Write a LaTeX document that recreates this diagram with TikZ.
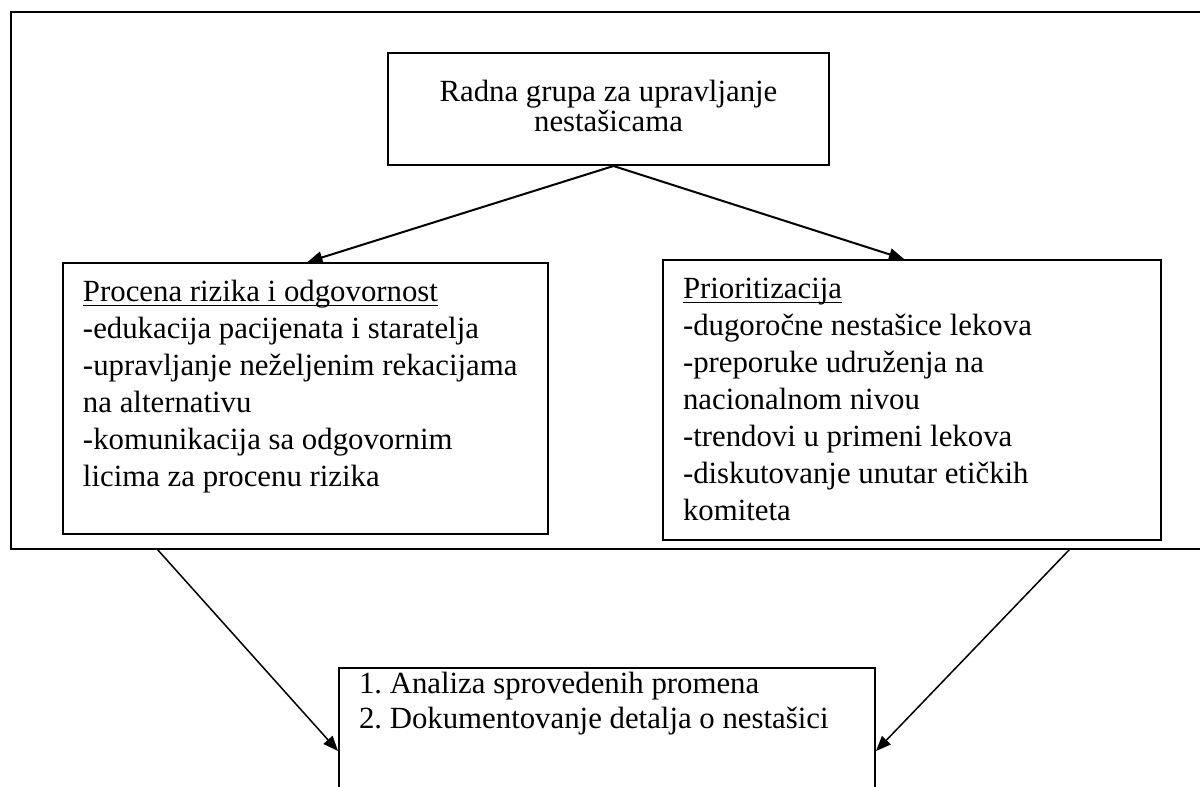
\documentclass[tikz,border=0pt]{standalone}
\usepackage{fontspec}
\setmainfont{Liberation Serif}
\usetikzlibrary{arrows.meta}

% podvucen naslov
\newcommand\podvuci[1]{\leavevmode\setbox0\hbox{#1}\rlap{\rule[-2.4pt]{\wd0}{0.75pt}}\box0}

\begin{document}
\begin{tikzpicture}[x=0.5pt,y=-0.5pt,
    every node/.style={font=\fontsize{15.4pt}{18.5pt}\selectfont\frenchspacing},
    okvir/.style={draw, line width=1pt, anchor=north west, inner xsep=10pt, inner ysep=0pt},
    strelica/.style={line width=1pt, -{Triangle[length=7.5pt,width=6pt]}}]
    \useasboundingbox (0,0) rectangle (1200,787);
    \clip (0,0) rectangle (1200,787);

    % Spoljni okvir
    \draw[line width=1pt] (11,12) rectangle (1215,549);
    \coordinate (izlazL) at (157,549);
    \coordinate (izlazD) at (1070,549);

    % Radna grupa
    \node[okvir] (grupa) at (387,52) {\parbox[t][56pt][t]{200.5pt}{\centering
        \baselineskip=15pt\vspace*{13.6pt}Radna grupa za upravljanje\\ nesta\v{s}icama}};

    % Procena rizika
    \node[okvir] (procena) at (62,262) {\parbox[t][135.5pt][t]{222.5pt}{\raggedright
        \vspace*{8.6pt}\podvuci{Procena rizika i odgovornost}\\
        -edukacija pacijenata i staratelja\\
        -upravljanje ne\v{z}eljenim rekacijama\\
        na alternativu\\
        -komunikacija sa odgovornim\\
        licima za procenu rizika}};

    % Prioritizacija
    \node[okvir] (prior) at (662,259) {\parbox[t][140pt][t]{229pt}{\raggedright
        \vspace*{9.1pt}\podvuci{Prioritizacija}\\
        -dugoro\v{c}ne nesta\v{s}ice lekova\\
        -preporuke udru\v{z}enja na\\
        nacionalnom nivou\\
        -trendovi u primeni lekova\\
        -diskutovanje unutar eti\v{c}kih\\
        komiteta}};

    % Analiza
    \node[okvir] (analiza) at (338,667) {\parbox[t][83pt][t]{248pt}{\raggedright
        \baselineskip=17.5pt\vspace*{2.1pt}1. Analiza sprovedenih promena\\
        2. Dokumentovanje detalja o nesta\v{s}ici}};

    % Strelice
    \draw[strelica] ([xshift=2.5pt]grupa.south) -- ([xshift=1pt]procena.north);
    \draw[strelica] ([xshift=2.5pt]grupa.south) -- ([xshift=-4pt]prior.north);
    \draw[strelica, line width=0.75pt] (izlazL) -- (analiza.west);
    \draw[strelica, line width=0.75pt] (izlazD) -- (analiza.east);
\end{tikzpicture}
\end{document}
